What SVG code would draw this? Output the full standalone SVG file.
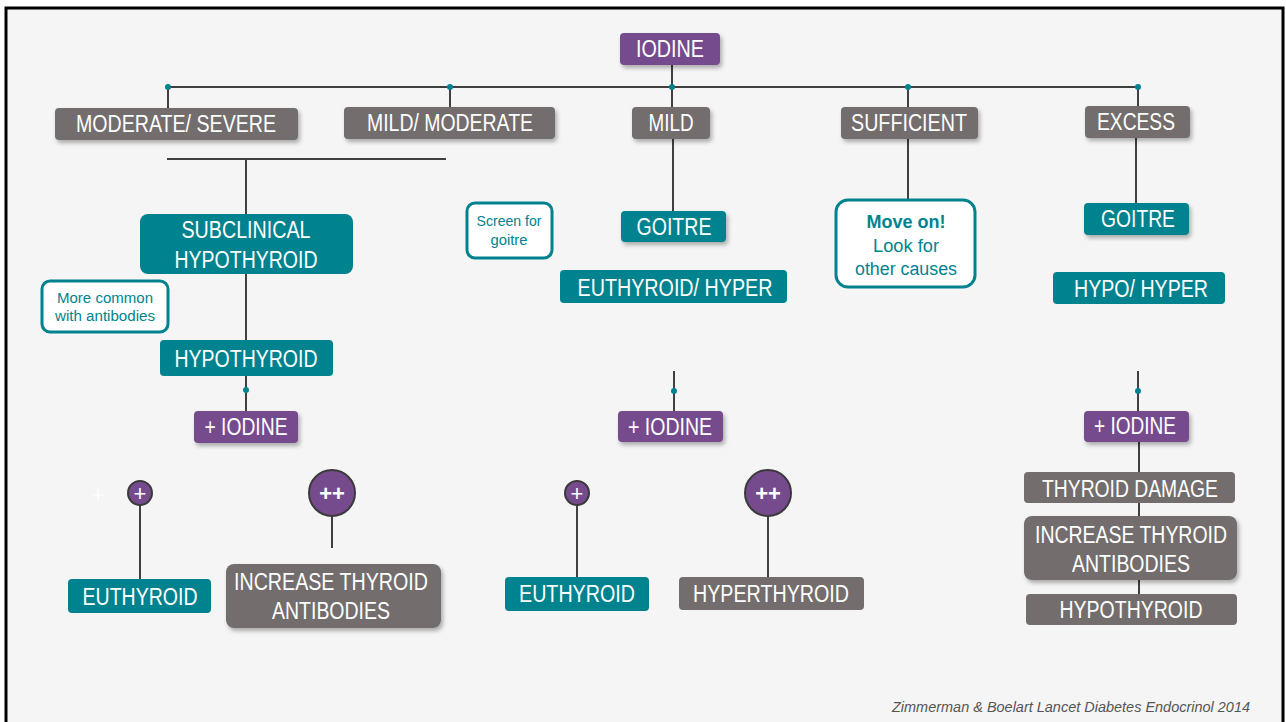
<svg xmlns="http://www.w3.org/2000/svg" width="1286" height="722" viewBox="0 0 1286 722">
<defs>
<filter id="sh" x="-20%" y="-30%" width="140%" height="180%">
<feDropShadow dx="2" dy="3" stdDeviation="2" flood-color="#000" flood-opacity="0.3"/>
</filter>
<style>
.p{fill:#764b8e}
.t{fill:#00838f}
.g{fill:#736e6d}
.w{fill:#ffffff;stroke:#00838f;stroke-width:3}
.lb{font-family:"Liberation Sans Narrow","Liberation Sans",Arial,sans-serif;font-size:23px;fill:#ffffff;text-anchor:middle}
.sm{font-family:"Liberation Sans",Arial,sans-serif;fill:#00838f;text-anchor:middle}
.ln{stroke:#404040;stroke-width:2;fill:none}
.dot{fill:#00838f}
.cir{fill:#764b8e;stroke:#3a3a3a;stroke-width:2}
.pl{font-family:"Liberation Sans",Arial,sans-serif;fill:#ffffff;text-anchor:middle}
</style>
</defs>
<rect x="0" y="0" width="1286" height="722" fill="#ffffff"/>
<rect x="6" y="8" width="1277" height="740" fill="#f5f5f5" stroke="#000" stroke-width="3"/>

<g id="connectors">
<line class="ln" x1="672" y1="65" x2="672" y2="87"/>
<line class="ln" x1="168" y1="87" x2="1138" y2="87"/>
<line class="ln" x1="168" y1="87" x2="168" y2="108"/>
<line class="ln" x1="450" y1="87" x2="450" y2="107"/>
<line class="ln" x1="672" y1="87" x2="672" y2="107"/>
<line class="ln" x1="908" y1="87" x2="908" y2="107"/>
<line class="ln" x1="1138" y1="87" x2="1138" y2="106"/>
<circle class="dot" cx="168" cy="87" r="3"/>
<circle class="dot" cx="450" cy="87" r="3"/>
<circle class="dot" cx="672" cy="87" r="3"/>
<circle class="dot" cx="908" cy="87" r="3"/>
<circle class="dot" cx="1138" cy="87" r="3"/>
<line class="ln" x1="167" y1="159" x2="446" y2="159"/>
<line class="ln" x1="246" y1="159" x2="246" y2="214"/>
<line class="ln" x1="246" y1="274" x2="246" y2="340"/>
<line class="ln" x1="246" y1="376" x2="246" y2="411"/>
<circle class="dot" cx="246" cy="390" r="3"/>
<line class="ln" x1="673" y1="139" x2="673" y2="211"/>
<line class="ln" x1="674" y1="371" x2="674" y2="411"/>
<circle class="dot" cx="674" cy="391" r="3"/>
<line class="ln" x1="908" y1="139" x2="908" y2="200"/>
<line class="ln" x1="1136" y1="138" x2="1136" y2="203"/>
<line class="ln" x1="1138" y1="371" x2="1138" y2="411"/>
<circle class="dot" cx="1138" cy="391" r="3"/>
<line class="ln" x1="1139" y1="442" x2="1139" y2="594"/>
<line class="ln" x1="140" y1="505" x2="140" y2="579"/>
<line class="ln" x1="332" y1="516" x2="332" y2="548"/>
<line class="ln" x1="577" y1="505" x2="577" y2="577"/>
<line class="ln" x1="768" y1="516" x2="768" y2="577"/>
</g>

<g id="root-iodine"><rect class="p" x="620" y="33" width="100" height="32" rx="4" filter="url(#sh)"/><text class="lb" x="670" y="57" textLength="68" lengthAdjust="spacingAndGlyphs">IODINE</text></g>

<g id="moderate-severe"><rect class="g" x="55" y="108" width="243" height="32" rx="4" filter="url(#sh)"/><text class="lb" x="176" y="132" textLength="200" lengthAdjust="spacingAndGlyphs">MODERATE/ SEVERE</text></g>
<g id="mild-moderate"><rect class="g" x="344" y="107" width="211" height="32" rx="4" filter="url(#sh)"/><text class="lb" x="450" y="131" textLength="166" lengthAdjust="spacingAndGlyphs">MILD/ MODERATE</text></g>
<g id="mild"><rect class="g" x="632" y="107" width="78" height="32" rx="4" filter="url(#sh)"/><text class="lb" x="671" y="131" textLength="45" lengthAdjust="spacingAndGlyphs">MILD</text></g>
<g id="sufficient"><rect class="g" x="841" y="107" width="137" height="32" rx="4" filter="url(#sh)"/><text class="lb" x="909" y="131" textLength="116" lengthAdjust="spacingAndGlyphs">SUFFICIENT</text></g>
<g id="excess"><rect class="g" x="1085" y="106" width="105" height="32" rx="4" filter="url(#sh)"/><text class="lb" x="1136" y="130" textLength="78" lengthAdjust="spacingAndGlyphs">EXCESS</text></g>

<g id="subclinical"><rect class="t" x="140" y="214" width="213" height="60" rx="8"/><text class="lb" x="246" y="238" textLength="129" lengthAdjust="spacingAndGlyphs">SUBCLINICAL</text><text class="lb" x="246" y="268" textLength="143" lengthAdjust="spacingAndGlyphs">HYPOTHYROID</text></g>
<g id="more-common"><rect class="w" x="42" y="281" width="126" height="51" rx="8"/><text class="sm" x="105" y="303" font-size="14" textLength="96" lengthAdjust="spacingAndGlyphs">More common</text><text class="sm" x="105" y="321" font-size="14" textLength="100" lengthAdjust="spacingAndGlyphs">with antibodies</text></g>
<g id="hypothyroid-left"><rect class="t" x="160" y="340" width="173" height="36" rx="4"/><text class="lb" x="246" y="367" textLength="143" lengthAdjust="spacingAndGlyphs">HYPOTHYROID</text></g>
<g id="iodine-left"><rect class="p" x="194" y="411" width="104" height="32" rx="4" filter="url(#sh)"/><text class="lb" x="246" y="435" textLength="83" lengthAdjust="spacingAndGlyphs">+ IODINE</text></g>

<g id="screen-goitre"><rect class="w" x="467" y="203" width="85" height="55" rx="8"/><text class="sm" x="509" y="226" font-size="14" textLength="65" lengthAdjust="spacingAndGlyphs">Screen for</text><text class="sm" x="509" y="245" font-size="14" textLength="37" lengthAdjust="spacingAndGlyphs">goitre</text></g>

<g id="goitre-mid"><rect class="t" x="621" y="211" width="105" height="31" rx="4" filter="url(#sh)"/><text class="lb" x="674" y="235" textLength="75" lengthAdjust="spacingAndGlyphs">GOITRE</text></g>
<g id="euthyroid-hyper"><rect class="t" x="560" y="270" width="227" height="33" rx="4"/><text class="lb" x="675" y="296" textLength="195" lengthAdjust="spacingAndGlyphs">EUTHYROID/ HYPER</text></g>
<g id="iodine-mid"><rect class="p" x="618" y="411" width="105" height="31" rx="4" filter="url(#sh)"/><text class="lb" x="670" y="435" textLength="84" lengthAdjust="spacingAndGlyphs">+ IODINE</text></g>

<g id="move-on"><rect class="w" x="836" y="200" width="139" height="87" rx="12" stroke-width="2.5"/><text class="sm" x="906" y="228" font-size="18" font-weight="bold" textLength="79" lengthAdjust="spacingAndGlyphs">Move on!</text><text class="sm" x="906" y="252" font-size="18" textLength="66" lengthAdjust="spacingAndGlyphs">Look for</text><text class="sm" x="906" y="275" font-size="18" textLength="102" lengthAdjust="spacingAndGlyphs">other causes</text></g>

<g id="goitre-right"><rect class="t" x="1084" y="203" width="105" height="32" rx="4" filter="url(#sh)"/><text class="lb" x="1138" y="227" textLength="74" lengthAdjust="spacingAndGlyphs">GOITRE</text></g>
<g id="hypo-hyper"><rect class="t" x="1053" y="272" width="172" height="32" rx="4"/><text class="lb" x="1141" y="297" textLength="134" lengthAdjust="spacingAndGlyphs">HYPO/ HYPER</text></g>
<g id="iodine-right"><rect class="p" x="1084" y="411" width="105" height="31" rx="4" filter="url(#sh)"/><text class="lb" x="1135" y="434" textLength="82" lengthAdjust="spacingAndGlyphs">+ IODINE</text></g>
<g id="thyroid-damage"><rect class="g" x="1024" y="472" width="211" height="31" rx="4"/><text class="lb" x="1130" y="497" textLength="176" lengthAdjust="spacingAndGlyphs">THYROID DAMAGE</text></g>
<g id="antibodies-right"><rect class="g" x="1024" y="516" width="213" height="64" rx="8" filter="url(#sh)"/><text class="lb" x="1131" y="543" textLength="192" lengthAdjust="spacingAndGlyphs">INCREASE THYROID</text><text class="lb" x="1131" y="572" textLength="118" lengthAdjust="spacingAndGlyphs">ANTIBODIES</text></g>
<g id="hypothyroid-right"><rect class="g" x="1026" y="594" width="211" height="31" rx="4"/><text class="lb" x="1131" y="618" textLength="143" lengthAdjust="spacingAndGlyphs">HYPOTHYROID</text></g>

<g id="faint-plus"><text class="pl" x="98" y="502" font-size="22" fill-opacity="0.85">+</text></g>
<g id="plus-left"><circle class="cir" cx="140" cy="493" r="12"/><text class="pl" x="140" y="501" font-size="22">+</text></g>
<g id="plusplus-left"><circle class="cir" cx="332" cy="493" r="23"/><text class="pl" x="332" y="501" font-size="22" font-weight="bold">++</text></g>
<g id="plus-mid"><circle class="cir" cx="577" cy="493" r="12"/><text class="pl" x="577" y="501" font-size="22">+</text></g>
<g id="plusplus-mid"><circle class="cir" cx="768" cy="493" r="23"/><text class="pl" x="768" y="501" font-size="22" font-weight="bold">++</text></g>

<g id="euthyroid-left"><rect class="t" x="68" y="579" width="143" height="34" rx="4"/><text class="lb" x="140" y="605" textLength="115" lengthAdjust="spacingAndGlyphs">EUTHYROID</text></g>
<g id="antibodies-left"><rect class="g" x="226" y="564" width="215" height="64" rx="8" filter="url(#sh)"/><text class="lb" x="331" y="590" textLength="194" lengthAdjust="spacingAndGlyphs">INCREASE THYROID</text><text class="lb" x="331" y="619" textLength="118" lengthAdjust="spacingAndGlyphs">ANTIBODIES</text></g>
<g id="euthyroid-mid"><rect class="t" x="505" y="577" width="144" height="34" rx="4"/><text class="lb" x="577" y="602" textLength="116" lengthAdjust="spacingAndGlyphs">EUTHYROID</text></g>
<g id="hyperthyroid"><rect class="g" x="679" y="577" width="185" height="33" rx="4"/><text class="lb" x="771" y="602" textLength="156" lengthAdjust="spacingAndGlyphs">HYPERTHYROID</text></g>

<text x="1250" y="712" font-family="'Liberation Sans',Arial,sans-serif" font-style="italic" font-size="14" fill="#555" text-anchor="end" textLength="358" lengthAdjust="spacingAndGlyphs">Zimmerman &amp; Boelart Lancet Diabetes Endocrinol 2014</text>
</svg>
